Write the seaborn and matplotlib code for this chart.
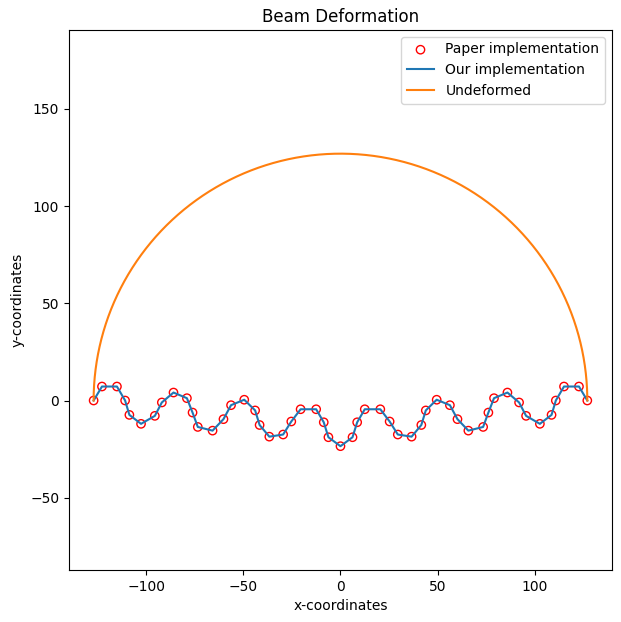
import numpy as np
import pandas as pd
import matplotlib
matplotlib.use("Agg")
import matplotlib.pyplot as plt
import seaborn as sns

# Deformed beam node positions (left half incl. centre; right half mirrors it)
half_x = [-127.0, -122.7, -115.0, -110.8, -108.6, -102.6, -95.5, -91.9, -85.9,
          -79.0, -76.1, -73.4, -65.8, -60.2, -56.3, -49.5, -43.9, -41.6, -36.6,
          -29.5, -25.3, -20.5, -12.5, -8.6, -6.2, 0.0]
half_y = [0.0, 7.2, 7.2, 0.0, -7.4, -12.0, -7.9, -1.0, 4.1,
          1.2, -6.2, -13.6, -15.5, -9.6, -2.4, 0.4, -5.1, -12.6, -18.6,
          -17.5, -10.8, -4.5, -4.5, -11.2, -18.9, -23.5]

deformed_x = half_x + [-v for v in half_x[-2::-1]]
deformed_y = half_y + half_y[-2::-1]

# Undeformed beam: semicircle of this radius
radius = 127.0
theta = np.linspace(np.pi, 0, 200)
undeformed_x = radius * np.cos(theta)
undeformed_y = radius * np.sin(theta)

df_def = pd.DataFrame({"x": deformed_x, "y": deformed_y})
df_und = pd.DataFrame({"x": undeformed_x, "y": undeformed_y})

fig = plt.figure(figsize=(6.21, 6.22), dpi=100)
ax = fig.add_axes([0.111, 0.0836, 0.8745, 0.8684])

sns.scatterplot(data=df_def, x="x", y="y", ax=ax, marker="o", s=36,
                facecolors="none", edgecolor="red", linewidth=1,
                label="Paper implementation", zorder=2)
sns.lineplot(data=df_def, x="x", y="y", ax=ax, sort=False, estimator=None,
             color="#1f77b4", linewidth=1.5, label="Our implementation", zorder=3)
sns.lineplot(data=df_und, x="x", y="y", ax=ax, sort=False, estimator=None,
             color="#ff7f0e", linewidth=1.5, label="Undeformed", zorder=4)

ax.set_aspect("equal", adjustable="datalim")
ax.set_title("Beam Deformation")
ax.set_xlabel("x-coordinates")
ax.set_ylabel("y-coordinates")
ax.legend(loc="upper right")

fig.savefig("out.png", dpi=100)
